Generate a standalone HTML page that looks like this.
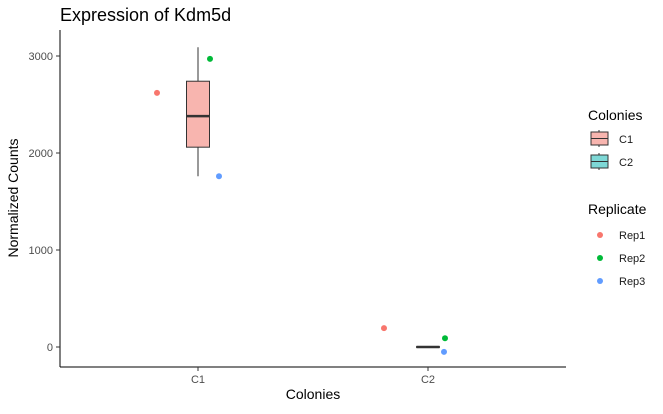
<!DOCTYPE html>
<html><head><meta charset="utf-8"><style>
body{margin:0;background:#fff;font-family:"Liberation Sans",sans-serif}
svg text{font-family:"Liberation Sans",sans-serif}
</style></head><body>
<svg id="chart" width="663" height="409" xmlns="http://www.w3.org/2000/svg">
<text x="60" y="21" font-size="18" fill="#000">Expression of Kdm5d</text>
<g id="plot"></g>
<text x="313" y="399" font-size="14" text-anchor="middle">Colonies</text>
<text transform="translate(18,198) rotate(-90)" font-size="14" text-anchor="middle">Normalized Counts</text>
<g>
<text x="588" y="120" font-size="14">Colonies</text>
<g>
<line x1="599" y1="130" x2="599" y2="147" stroke="#333"/>
<rect x="591" y="132" width="17" height="13" fill="#F8B5AF" stroke="#333"/>
<line x1="591" y1="138.5" x2="608" y2="138.5" stroke="#333"/>
<text x="619" y="143" font-size="11" fill="#1a1a1a">C1</text></g>
<g>
<line x1="599" y1="153" x2="599" y2="170" stroke="#333"/>
<rect x="591" y="155" width="17" height="13" fill="#7ED8D6" stroke="#333"/>
<line x1="591" y1="161.5" x2="608" y2="161.5" stroke="#333"/>
<text x="619" y="166" font-size="11" fill="#1a1a1a">C2</text></g>
</g>
<g>
<text x="588" y="214" font-size="14">Replicate</text>
<g><circle cx="600" cy="235" r="3" fill="#F8766D"/><text x="619" y="239" font-size="11" fill="#1a1a1a">Rep1</text></g>
<g><circle cx="600" cy="258" r="3" fill="#00BA38"/><text x="619" y="262" font-size="11" fill="#1a1a1a">Rep2</text></g>
<g><circle cx="600" cy="281" r="3" fill="#619CFF"/><text x="619" y="285" font-size="11" fill="#1a1a1a">Rep3</text></g>
</g>
</svg>
<script>
const categories=["C1","C2"];
const yTicks=[0,1000,2000,3000];
const rep1=[2620,195];
const rep2=[2970,90];
const rep3=[1760,-50];
const jitterX=[[-41,12,21],[-44,17,16]];
const boxMin=[1760,-3];
const boxQ1=[2060,-3];
const boxMed=[2380,0];
const boxQ3=[2740,3];
const boxMax=[3090,3];
const fills=["#F8B5AF","#7ED8D6"];
const NS="http://www.w3.org/2000/svg";
const g=document.getElementById('plot');
const xS=i=>198+i*230;
const yS=v=>347-v*0.097;
function mk(t,a){const e=document.createElementNS(NS,t);for(const k in a)e.setAttribute(k,a[k]);g.appendChild(e);return e;}
let e=mk('line',{x1:60,y1:30,x2:60,y2:367,stroke:'#000'});


e=mk('line',{x1:60,y1:367,x2:566,y2:367,stroke:'#000'});


yTicks.forEach(v=>{
 let l=mk('line',{x1:56,x2:60,y1:yS(v),y2:yS(v),stroke:'#333'});
 
 
 let t=mk('text',{x:53,y:yS(v)+4,'font-size':11,'text-anchor':'end',fill:'#4d4d4d'});t.textContent=v;
 
 
});
categories.forEach((c,i)=>{
 const x=xS(i);
 let l=mk('line',{x1:x,x2:x,y1:367,y2:371,stroke:'#333'});
 
 
 let t=mk('text',{x:x,y:383,'font-size':11,'text-anchor':'middle',fill:'#4d4d4d'});t.textContent=c;
 
 
 let w=mk('line',{x1:x,x2:x,y1:yS(boxMax[i]),y2:yS(boxMin[i]),stroke:'#333'});
 
 
 let r=mk('rect',{x:x-11.5,width:23,y:yS(boxQ3[i]),height:yS(boxQ1[i])-yS(boxQ3[i]),fill:fills[i],stroke:'#333'});
 
 
 let m=mk('line',{x1:x-11.5,x2:x+11.5,y1:yS(boxMed[i]),y2:yS(boxMed[i]),stroke:'#333','stroke-width':2.5});
 
 
 [[rep1,'#F8766D','rep1'],[rep2,'#00BA38','rep2'],[rep3,'#619CFF','rep3']].forEach((s,j)=>{
  let p=mk('circle',{cx:x+jitterX[i][j],cy:yS(s[0][i]),r:3,fill:s[1]});
  
  
 });
});
</script>
</body></html>
